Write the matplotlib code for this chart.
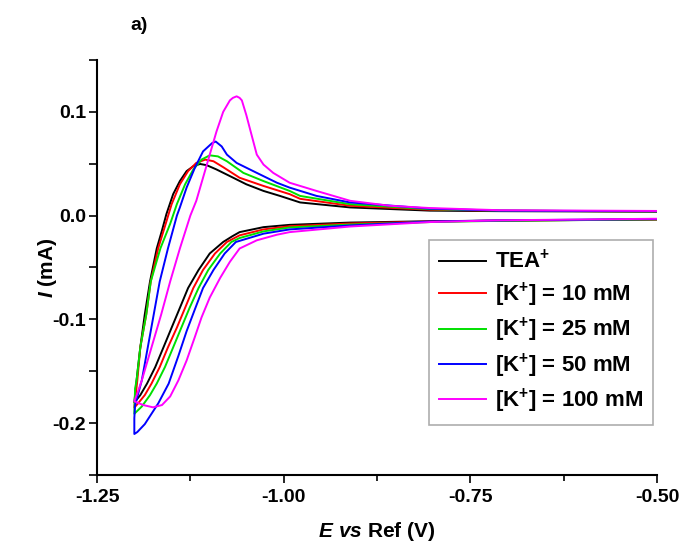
import numpy as np
import matplotlib
matplotlib.use("Agg")
import matplotlib.pyplot as plt
from matplotlib.ticker import MultipleLocator

plt.rcParams['font.family'] = 'Liberation Sans'
plt.rcParams['font.weight'] = 'bold'
plt.rcParams['mathtext.fontset'] = 'custom'
plt.rcParams['mathtext.rm'] = 'Liberation Sans:bold'
plt.rcParams['mathtext.it'] = 'Liberation Sans:italic:bold'
plt.rcParams['mathtext.bf'] = 'Liberation Sans:bold'

# cyclic voltammograms, cathodic sweep -0.50 -> -1.20 V then back
tea_e = [-0.50, -0.710, -0.804, -0.911, -0.992, -1.027, -1.059, -1.069, -1.081, -1.099, -1.114, -1.128,
         -1.139, -1.150, -1.161, -1.172, -1.183, -1.192, -1.199, -1.200,
         -1.197, -1.192, -1.186, -1.179, -1.170, -1.163, -1.157, -1.148, -1.139, -1.130, -1.121, -1.112,
         -1.103, -1.090, -1.072, -1.050, -1.027, -1.005, -0.978, -0.911, -0.804, -0.710, -0.50]
tea_i = [-0.0038, -0.0048, -0.0054, -0.0067, -0.0089, -0.0111, -0.0159, -0.0200, -0.0254, -0.0365, -0.0524, -0.0698,
         -0.0889, -0.1079, -0.1270, -0.1460, -0.1619, -0.1730, -0.1793, -0.1800,
         -0.1588, -0.1270, -0.0952, -0.0635, -0.0317, -0.0143, 0.0016, 0.0207, 0.0333, 0.0429, 0.0476, 0.0498,
         0.0486, 0.0445, 0.0381, 0.0302, 0.0238, 0.0190, 0.0127, 0.0079, 0.0048, 0.0043, 0.0038]

k10_e = [-0.50, -0.710, -0.804, -0.911, -0.992, -1.027, -1.059, -1.076, -1.092, -1.108, -1.121, -1.132,
         -1.143, -1.155, -1.166, -1.177, -1.186, -1.195, -1.200,
         -1.196, -1.192, -1.184, -1.178, -1.168, -1.158, -1.150, -1.139, -1.128, -1.117, -1.105, -1.094,
         -1.081, -1.059, -1.027, -0.992, -0.978, -0.911, -0.804, -0.710, -0.50]
k10_i = [-0.0036, -0.0048, -0.0057, -0.0076, -0.0102, -0.0133, -0.0190, -0.0254, -0.0365, -0.0524, -0.0698, -0.0889,
         -0.1079, -0.1270, -0.1460, -0.1619, -0.1730, -0.1810, -0.1850,
         -0.1588, -0.1270, -0.0952, -0.0635, -0.0314, -0.0079, 0.0111, 0.0302, 0.0429, 0.0508, 0.0540, 0.0524,
         0.0467, 0.0365, 0.0286, 0.0207, 0.0162, 0.0095, 0.0057, 0.0048, 0.0040]

k25_e = [-0.50, -0.710, -0.804, -0.911, -0.992, -1.027, -1.059, -1.070, -1.085, -1.101, -1.114, -1.126,
         -1.137, -1.148, -1.159, -1.170, -1.179, -1.190, -1.200,
         -1.199, -1.197, -1.192, -1.184, -1.178, -1.165, -1.152, -1.143, -1.132, -1.121, -1.110, -1.099,
         -1.088, -1.076, -1.054, -1.027, -0.992, -0.978, -0.911, -0.804, -0.710, -0.50]
k25_i = [-0.0035, -0.0050, -0.0062, -0.0086, -0.0114, -0.0152, -0.0216, -0.0254, -0.0365, -0.0524, -0.0698, -0.0889,
         -0.1079, -0.1270, -0.1460, -0.1619, -0.1730, -0.1840, -0.1910,
         -0.1667, -0.1588, -0.1270, -0.0952, -0.0635, -0.0314, -0.0079, 0.0111, 0.0302, 0.0445, 0.0540, 0.0581,
         0.0571, 0.0524, 0.0412, 0.0333, 0.0238, 0.0190, 0.0110, 0.0062, 0.0048, 0.0040]

k50_e = [-0.50, -0.710, -0.804, -0.911, -0.992, -1.027, -1.064, -1.079, -1.094, -1.108, -1.119, -1.130,
         -1.141, -1.154, -1.168, -1.186, -1.196, -1.200,
         -1.200, -1.199, -1.190, -1.182, -1.174, -1.166, -1.155, -1.143, -1.139, -1.130, -1.119, -1.108,
         -1.096, -1.091, -1.083, -1.076, -1.063, -1.036, -1.009, -0.992, -0.956, -0.911, -0.804, -0.710, -0.50]
k50_i = [-0.0033, -0.0046, -0.0057, -0.0095, -0.0133, -0.0174, -0.0254, -0.0365, -0.0524, -0.0698, -0.0905, -0.1114,
         -0.1352, -0.1619, -0.1810, -0.2010, -0.2086, -0.2105,
         -0.1952, -0.1826, -0.1588, -0.1270, -0.0952, -0.0635, -0.0317, 0.0000, 0.0079, 0.0270, 0.0460, 0.0619,
         0.0698, 0.0714, 0.0667, 0.0588, 0.0508, 0.0412, 0.0317, 0.0270, 0.0190, 0.0127, 0.0067, 0.0048, 0.0042]

k100_e = [-0.50, -0.710, -0.804, -0.911, -0.992, -1.009, -1.036, -1.059, -1.072, -1.085, -1.099, -1.110,
          -1.119, -1.130, -1.141, -1.152, -1.163, -1.175, -1.188, -1.195, -1.200,
          -1.196, -1.190, -1.177, -1.164, -1.152, -1.139, -1.125, -1.117, -1.108, -1.099, -1.090, -1.081,
          -1.072, -1.068, -1.063, -1.059, -1.056, -1.050, -1.043, -1.036, -1.027, -1.014, -0.992, -0.956,
          -0.911, -0.858, -0.804, -0.710, -0.50]
k100_i = [-0.0030, -0.0045, -0.0062, -0.0105, -0.0159, -0.0184, -0.0238, -0.0317, -0.0445, -0.0600, -0.0790, -0.0981,
          -0.1171, -0.1397, -0.1588, -0.1743, -0.1826, -0.1848, -0.1826, -0.1805, -0.1790,
          -0.1714, -0.1588, -0.1270, -0.0952, -0.0635, -0.0317, 0.0000, 0.0143, 0.0365, 0.0588, 0.0810, 0.1000,
          0.1111, 0.1135, 0.1150, 0.1135, 0.1111, 0.0969, 0.0778, 0.0588, 0.0492, 0.0412, 0.0317, 0.0238,
          0.0143, 0.0095, 0.0073, 0.0052, 0.0045]

labels = [r'TEA$^{+}$', r'[K$^{+}$] = 10 mM', r'[K$^{+}$] = 25 mM',
          r'[K$^{+}$] = 50 mM', r'[K$^{+}$] = 100 mM']
colors = ['black', '#ff0000', '#00e000', '#0000ff', '#ff00ff']
curves = [(tea_e, tea_i), (k10_e, k10_i), (k25_e, k25_i), (k50_e, k50_i), (k100_e, k100_i)]

fig = plt.figure(figsize=(6.86, 5.5), dpi=100)
ax = fig.add_axes([0.1414, 0.1364, 0.8163, 0.7545])

for (e, i), lab, c in zip(curves, labels, colors):
    ax.plot(e, i, color=c, lw=1.4, label=lab)

ax.set_xlim(-1.25, -0.50)
ax.set_ylim(-0.25, 0.15)
ax.xaxis.set_major_locator(MultipleLocator(0.25))
ax.xaxis.set_minor_locator(MultipleLocator(0.125))
ax.yaxis.set_major_locator(MultipleLocator(0.1))
ax.yaxis.set_minor_locator(MultipleLocator(0.05))
ax.xaxis.set_major_formatter(plt.FuncFormatter(lambda v, p: f'{v:.2f}'))
ax.yaxis.set_major_formatter(plt.FuncFormatter(lambda v, p: '' if v > 0.11 else f'{v:.1f}'))

for s in ['top', 'right']:
    ax.spines[s].set_visible(False)
for s in ['left', 'bottom']:
    ax.spines[s].set_linewidth(1.5)

ax.tick_params(axis='both', which='major', direction='out', length=6, width=1.2, labelsize=14, pad=2)
ax.tick_params(axis='x', which='major', pad=4)
ax.tick_params(axis='x', which='minor', direction='out', length=4, width=1.2)
ax.tick_params(axis='y', which='minor', direction='out', length=6, width=1.2)
for t in ax.get_xticklabels() + ax.get_yticklabels():
    t.set_fontweight('bold')

ax.set_xlabel(r'$\mathit{E\ vs}$ Ref (V)', fontsize=15, fontweight='bold', labelpad=10)
ax.set_ylabel(r'$\mathit{I}$ (mA)', fontsize=15, fontweight='bold', labelpad=-5)
fig.text(0.19, 0.953, 'a)', fontsize=14, fontweight='bold', ha='left', va='center')

leg = ax.legend(loc='upper right', bbox_to_anchor=(0.993, 0.566), fontsize=16,
                fancybox=False, edgecolor='#999999', handlelength=2.1,
                borderpad=0.45, labelspacing=0.32, handletextpad=0.4, borderaxespad=0)
leg.get_frame().set_linewidth(1.2)
for t in leg.get_texts():
    t.set_fontweight('bold')

plt.savefig('out.png', dpi=100)
